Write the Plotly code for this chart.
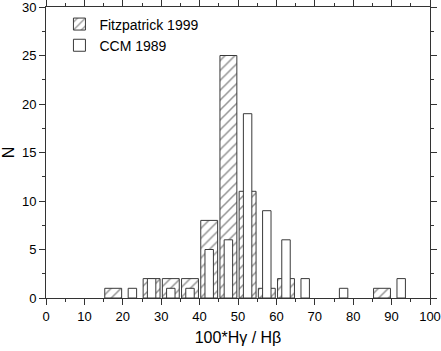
import plotly.graph_objects as go

# bin centres (100*Hgamma/Hbeta) and counts
fitz_x = [17.5, 27.5, 32.5, 37.5, 42.5, 47.5, 52.5, 57.5, 62.5, 87.5]
fitz_n = [1, 2, 2, 2, 8, 25, 11, 1, 2, 1]

ccm_x = [22.5, 27.5, 32.5, 37.5, 42.5, 47.5, 52.5, 57.5, 62.5, 67.5, 77.5, 92.5]
ccm_n = [1, 2, 1, 1, 5, 6, 19, 9, 6, 2, 1, 2]

x_ticks = [0, 10, 20, 30, 40, 50, 60, 70, 80, 90, 100]
y_ticks = [0, 5, 10, 15, 20, 25, 30]

edge = "#3a3a3a"
axc = "#333333"
font = "Liberation Sans, Arial, sans-serif"

fig = go.Figure()
fig.add_trace(go.Bar(
    name="Fitzpatrick 1999", x=fitz_x, y=fitz_n, width=4.4,
    marker=dict(color="white", line=dict(color=edge, width=1),
                pattern=dict(shape="/", fgcolor="#2a2a2a", bgcolor="white",
                             size=7, solidity=0.22)),
))
# drawn second, so it sits on top of the hatched bars
fig.add_trace(go.Bar(
    name="CCM 1989", x=ccm_x, y=ccm_n, width=2.2,
    marker=dict(color="white", line=dict(color=edge, width=1)),
))

fig.update_layout(
    width=441, height=351,
    margin=dict(l=46, r=11, t=7, b=53),
    barmode="overlay",
    plot_bgcolor="white", paper_bgcolor="white",
    font=dict(family=font, size=13, color="black"),
    showlegend=True,
    legend=dict(x=0.035, y=0.995, xanchor="left", yanchor="top",
                bgcolor="rgba(0,0,0,0)", font=dict(size=14),
                itemwidth=30, tracegroupgap=0),
    xaxis=dict(range=[0, 100], tickvals=x_ticks, ticks="outside", ticklen=6,
               tickcolor=axc, linecolor=axc, linewidth=1, showline=True,
               mirror="ticks", showgrid=False, zeroline=False, automargin=False,
               ticklabeloverflow="allow",
               minor=dict(dtick=5, ticks="outside", ticklen=3, tickcolor=axc),
               title=dict(text="100*Hγ / Hβ", font=dict(size=16), standoff=9)),
    yaxis=dict(range=[0, 30], tickvals=y_ticks, ticks="outside", ticklen=6,
               tickcolor=axc, linecolor=axc, linewidth=1, showline=True,
               mirror="ticks", showgrid=False, zeroline=False, automargin=False,
               ticklabeloverflow="allow",
               minor=dict(dtick=2.5, ticks="outside", ticklen=3, tickcolor=axc),
               title=dict(text="N", font=dict(size=16), standoff=12)),
)

fig.write_html("out.html", config={"displayModeBar": False},
               post_script="document.body.style.margin='0';document.body.style.overflow='hidden';")
